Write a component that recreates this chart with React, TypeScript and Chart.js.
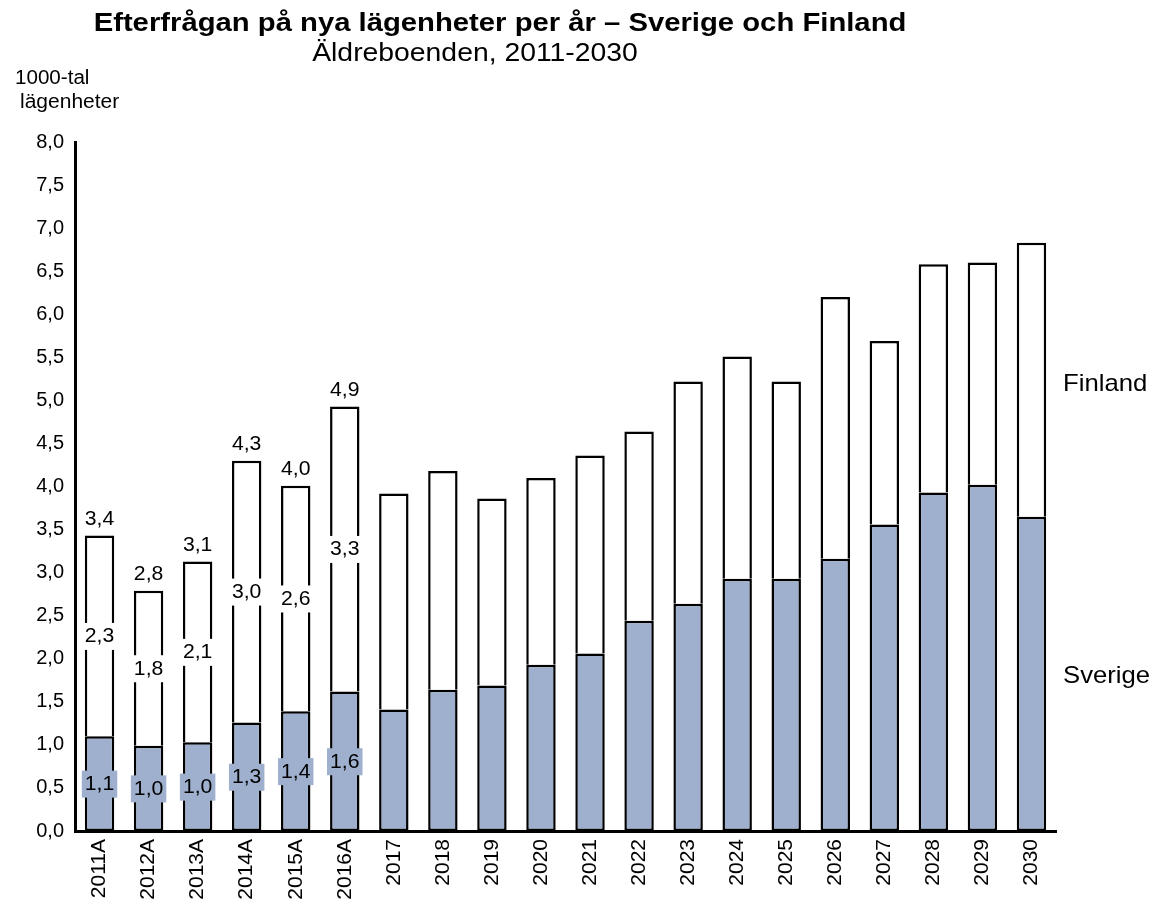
import React, { useEffect, useRef } from "react";
import { Chart, registerables } from "chart.js";

Chart.register(...registerables);

const categories = ["2011A", "2012A", "2013A", "2014A", "2015A", "2016A", "2017", "2018", "2019", "2020", "2021", "2022", "2023", "2024", "2025", "2026", "2027", "2028", "2029", "2030"];
const sverige = [1.1, 0.99, 1.03, 1.26, 1.39, 1.62, 1.41, 1.64, 1.69, 1.93, 2.06, 2.44, 2.64, 2.93, 2.93, 3.16, 3.56, 3.93, 4.02, 3.65];
const finland = [2.33, 1.8, 2.1, 3.04, 2.62, 3.31, 2.51, 2.54, 2.17, 2.17, 2.3, 2.2, 2.58, 2.58, 2.29, 3.04, 2.13, 2.65, 2.58, 3.18];
const seriesNames = ["Sverige", "Finland"];
const titleText = "Efterfrågan på nya lägenheter per år – Sverige och Finland";
const subtitleText = "Äldreboenden, 2011-2030";
const yTitleLines = ["1000-tal", "lägenheter"];

const FONT = 'Arial, "Liberation Sans", sans-serif';
const BLUE = "#9eb0cd";

const fmt = (v: number) => v.toFixed(1).replace(".", ",");

const stretchText = (ctx: any, txt: string, x: number, y: number, sx: number) => {
  ctx.save();
  ctx.translate(x, y);
  ctx.scale(sx, 1);
  ctx.fillText(txt, 0, 0);
  ctx.restore();
};

const labelPlugin = {
  id: "customLabels",
  afterDatasetsDraw(chart: any) {
    const ctx = chart.ctx;
    const m0 = chart.getDatasetMeta(0);
    const m1 = chart.getDatasetMeta(1);
    ctx.save();
    ctx.font = `20px ${FONT}`;
    ctx.textAlign = "center";
    ctx.textBaseline = "middle";
    const box = (txt: string, x: number, y: number, bg: string) => {
      const w = ctx.measureText(txt).width * 1.06;
      ctx.fillStyle = bg;
      ctx.fillRect(x - w / 2 - 3, y - 13, w + 6, 27);
      ctx.fillStyle = "#000";
      stretchText(ctx, txt, x, y + 1, 1.06);
    };
    categories.forEach((c, i) => {
      if (!c.endsWith("A")) return;
      const b0 = m0.data[i];
      const b1 = m1.data[i];
      box(fmt(sverige[i]), b0.x, (b0.y + b0.base) / 2, BLUE);
      box(fmt(finland[i]), b1.x, (b1.y + b1.base) / 2, "#fff");
      ctx.fillStyle = "#000";
      stretchText(ctx, fmt(sverige[i] + finland[i]), b1.x, b1.y - 16, 1.06);
    });
    ctx.restore();
  },
  afterDraw(chart: any) {
    const ctx = chart.ctx;
    const area = chart.chartArea;
    const y = chart.scales.y;
    ctx.save();
    ctx.fillStyle = "#000";
    ctx.textBaseline = "alphabetic";
    ctx.textAlign = "center";
    ctx.font = `bold 26px ${FONT}`;
    stretchText(ctx, titleText, 500, 31, 1.125);
    ctx.font = `26px ${FONT}`;
    stretchText(ctx, subtitleText, 475, 61, 1.09);
    ctx.textAlign = "left";
    ctx.font = `20px ${FONT}`;
    stretchText(ctx, yTitleLines[0], 15, 84, 1.03);
    stretchText(ctx, yTitleLines[1], 20, 108, 1.05);
    ctx.font = `24px ${FONT}`;
    ctx.textBaseline = "middle";
    stretchText(ctx, seriesNames[1], area.right + 7, y.getPixelForValue(5.19), 1.07);
    stretchText(ctx, seriesNames[0], area.right + 7, y.getPixelForValue(1.79), 1.07);
    ctx.restore();
  },
};

export default function App() {
  const ref = useRef<HTMLCanvasElement | null>(null);
  useEffect(() => {
    if (!ref.current) return;
    const chart = new Chart(ref.current, {
      type: "bar",
      data: {
        labels: categories,
        datasets: [
          {
            label: seriesNames[0],
            data: sverige,
            backgroundColor: BLUE,
            borderColor: "#000",
            borderWidth: 2.5,
            borderSkipped: false,
            barPercentage: 0.6,
            categoryPercentage: 1,
          },
          {
            label: seriesNames[1],
            data: finland,
            backgroundColor: "#fff",
            borderColor: "#000",
            borderWidth: { top: 2.5, left: 2.5, right: 2.5, bottom: 0 },
            borderSkipped: "bottom",
            barPercentage: 0.6,
            categoryPercentage: 1,
          },
        ],
      },
      options: {
        responsive: false,
        animation: false,
        devicePixelRatio: 1,
        layout: { padding: { top: 142, right: 98, left: 0, bottom: 0 } },
        plugins: {
          legend: { display: false },
          tooltip: { enabled: false },
          title: { display: false },
        },
        scales: {
          x: {
            stacked: true,
            grid: { display: false, drawTicks: false },
            border: { display: true, color: "#000", width: 3 },
            ticks: {
              color: "#000",
              font: { family: FONT, size: 21 },
              minRotation: 90,
              maxRotation: 90,
              padding: 8,
              autoSkip: false,
            },
            afterFit: (s: any) => {
              s.height = 78;
            },
          },
          y: {
            stacked: true,
            min: 0,
            max: 8,
            grid: { display: false, drawTicks: false },
            border: { display: true, color: "#000", width: 3 },
            ticks: {
              stepSize: 0.5,
              color: "#000",
              font: { family: FONT, size: 20 },
              padding: 11,
              callback: (v: any) => fmt(Number(v)),
            },
            afterFit: (s: any) => {
              s.width = 75;
            },
          },
        },
      },
      plugins: [labelPlugin],
    });
    return () => chart.destroy();
  }, []);
  return (
    <div style={{ position: "fixed", left: 0, top: 0, width: 1154, height: 909, background: "#fff" }}>
      <canvas ref={ref} width={1154} height={909} style={{ width: 1154, height: 909 }} />
    </div>
  );
}
